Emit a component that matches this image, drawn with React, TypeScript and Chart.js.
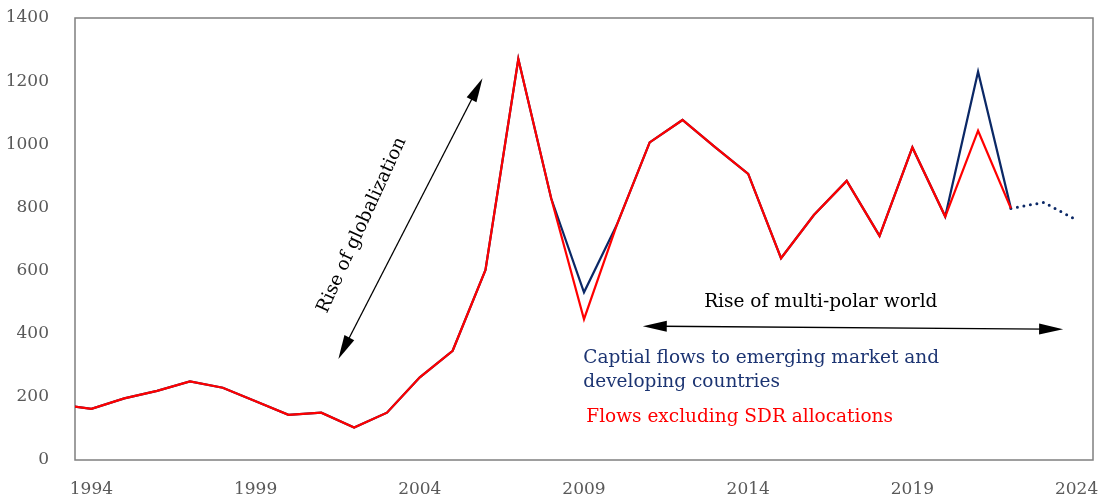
import { useEffect, useRef } from "react";
import { Chart, registerables } from "chart.js";

Chart.register(...registerables);

// Years on the x-axis (1993 sits just left of the plotted range)
const years = [
  1993, 1994, 1995, 1996, 1997, 1998, 1999, 2000, 2001, 2002, 2003, 2004, 2005,
  2006, 2007, 2008, 2009, 2010, 2011, 2012, 2013, 2014, 2015, 2016, 2017, 2018,
  2019, 2020, 2021, 2022, 2023, 2024,
];

// Capital flows to emerging market and developing countries (USD bn)
const capitalFlows: (number | null)[] = [
  176, 162, 195, 219, 249, 229, 186, 143, 150, 103, 150, 262, 346, 602, 1270,
  829, 531, 745, 1006, 1077, 990, 906, 639, 776, 884, 710, 990, 771, 1230, 797,
  null, null,
];

// Flows excluding SDR allocations
const flowsExSdr: (number | null)[] = [
  176, 162, 195, 219, 249, 229, 186, 143, 150, 103, 150, 262, 346, 602, 1270,
  829, 446, 745, 1006, 1077, 990, 906, 639, 776, 884, 710, 990, 771, 1043, 797,
  null, null,
];

// Projection for the latest years (dotted)
const projection: (number | null)[] = [
  null, null, null, null, null, null, null, null, null, null, null, null, null,
  null, null, null, null, null, null, null, null, null, null, null, null, null,
  null, null, null, 797, 816, 760,
];

const xTickYears = [1994, 1999, 2004, 2009, 2014, 2019, 2024];
const yTicks = [0, 200, 400, 600, 800, 1000, 1200, 1400];

const NAVY = "#0b2866";
const NAVY_TEXT = "#1c3472";
const RED = "#ff0000";
const GREY = "#595959";
const SERIF = '"DejaVu Serif", "Liberation Serif", serif';
const NOTE_FONT = `18.5px ${SERIF}`;

const toPoints = (vals: (number | null)[]) =>
  years.map((x, i) => ({ x, y: vals[i] }));

type Pt = [number, number];

function arrowHead(ctx: CanvasRenderingContext2D, from: Pt, tip: Pt, len: number, half: number) {
  const ang = Math.atan2(tip[1] - from[1], tip[0] - from[0]);
  const bx = tip[0] - len * Math.cos(ang);
  const by = tip[1] - len * Math.sin(ang);
  ctx.beginPath();
  ctx.moveTo(tip[0], tip[1]);
  ctx.lineTo(bx + half * Math.sin(ang), by - half * Math.cos(ang));
  ctx.lineTo(bx - half * Math.sin(ang), by + half * Math.cos(ang));
  ctx.closePath();
  ctx.fill();
}

function doubleArrow(ctx: CanvasRenderingContext2D, a: Pt, b: Pt) {
  ctx.save();
  ctx.strokeStyle = "#000";
  ctx.fillStyle = "#000";
  ctx.lineWidth = 1.3;
  const ang = Math.atan2(b[1] - a[1], b[0] - a[0]);
  const inset = 18;
  ctx.beginPath();
  ctx.moveTo(a[0] + inset * Math.cos(ang), a[1] + inset * Math.sin(ang));
  ctx.lineTo(b[0] - inset * Math.cos(ang), b[1] - inset * Math.sin(ang));
  ctx.stroke();
  arrowHead(ctx, a, b, 24, 5.5);
  arrowHead(ctx, b, a, 24, 5.5);
  ctx.restore();
}

// Frame around the plot area plus the annotation arrows and labels
const annotations = {
  id: "annotations",
  beforeDatasetsDraw(chart: Chart) {
    const { ctx, chartArea: a } = chart;
    ctx.save();
    ctx.strokeStyle = "#7f7f7f";
    ctx.lineWidth = 1.5;
    ctx.strokeRect(a.left, a.top, a.right - a.left, a.bottom - a.top);
    ctx.restore();
  },
  afterDatasetsDraw(chart: Chart) {
    const { ctx } = chart;
    const xs = chart.scales.x;
    const ys = chart.scales.y;
    const p = (yr: number, v: number): Pt => [xs.getPixelForValue(yr), ys.getPixelForValue(v)];

    // Rise of globalization
    doubleArrow(ctx, p(2001.52, 320), p(2005.91, 1209));
    ctx.save();
    const c = p(2002.24, 744);
    ctx.translate(c[0], c[1]);
    ctx.rotate((-65.5 * Math.PI) / 180);
    ctx.font = NOTE_FONT;
    ctx.fillStyle = "#000";
    ctx.textAlign = "center";
    ctx.textBaseline = "middle";
    ctx.fillText("Rise of globalization", 0, 0);
    ctx.restore();

    // Rise of multi-polar world
    doubleArrow(ctx, p(2010.79, 424), p(2023.59, 414));
    ctx.save();
    ctx.font = NOTE_FONT;
    ctx.fillStyle = "#000";
    ctx.textAlign = "center";
    ctx.textBaseline = "middle";
    const m = p(2016.21, 501);
    ctx.fillText("Rise of multi-polar world", m[0], m[1]);

    // Series labels
    ctx.textAlign = "left";
    ctx.fillStyle = NAVY_TEXT;
    const l1 = p(2008.98, 324);
    ctx.fillText("Captial flows to emerging market and", l1[0], l1[1]);
    const l2 = p(2008.98, 248);
    ctx.fillText("developing countries", l2[0], l2[1]);
    ctx.fillStyle = RED;
    const l3 = p(2009.07, 137);
    ctx.fillText("Flows excluding SDR allocations", l3[0], l3[1]);
    ctx.restore();
  },
};

export default function App() {
  const canvasRef = useRef<HTMLCanvasElement | null>(null);

  useEffect(() => {
    if (!canvasRef.current) return;
    const chart = new Chart(canvasRef.current, {
      type: "line",
      data: {
        datasets: [
          {
            label: "Flows excluding SDR allocations",
            data: toPoints(flowsExSdr),
            borderColor: RED,
            borderWidth: 2.2,
            borderJoinStyle: "miter",
            pointRadius: 0,
            tension: 0,
            clip: 0,
          },
          {
            label: "Captial flows to emerging market and developing countries",
            data: toPoints(capitalFlows),
            borderColor: NAVY,
            borderWidth: 2.2,
            borderJoinStyle: "miter",
            pointRadius: 0,
            tension: 0,
            clip: 0,
          },
          {
            label: "Projection",
            data: toPoints(projection),
            borderColor: NAVY,
            borderWidth: 3,
            borderDash: [0, 6.6],
            borderCapStyle: "round",
            pointRadius: 0,
            tension: 0,
            clip: 0,
          },
        ],
      },
      options: {
        animation: false,
        responsive: true,
        maintainAspectRatio: false,
        parsing: { xAxisKey: "x", yAxisKey: "y" },
        layout: { padding: { top: 18, right: 9, left: 0, bottom: 0 } },
        plugins: {
          legend: { display: false },
          tooltip: { enabled: false },
        },
        scales: {
          x: {
            type: "linear",
            min: 1993.5,
            max: 2024.5,
            grid: { display: false },
            border: { display: false },
            afterBuildTicks: (scale: any) => {
              scale.ticks = xTickYears.map((v) => ({ value: v }));
            },
            afterFit: (scale: any) => {
              scale.height = 38;
              scale.paddingLeft = 0;
              scale.paddingRight = 0;
            },
            ticks: {
              color: GREY,
              font: { family: SERIF, size: 17 },
              padding: 11,
              maxRotation: 0,
              autoSkip: false,
              callback: (v: any) => String(v),
            },
          },
          y: {
            type: "linear",
            min: 0,
            max: 1400,
            grid: { display: false },
            border: { display: false },
            afterBuildTicks: (scale: any) => {
              scale.ticks = yTicks.map((v) => ({ value: v }));
            },
            afterFit: (scale: any) => {
              scale.width = 75;
              scale.paddingTop = 0;
              scale.paddingBottom = 0;
            },
            ticks: {
              color: GREY,
              font: { family: SERIF, size: 17 },
              padding: 18,
              callback: (v: any) => String(v),
            },
          },
        },
      },
      plugins: [annotations],
    });
    return () => chart.destroy();
  }, []);

  return (
    <div style={{ position: "fixed", left: 0, top: 0, width: 1102, height: 498, background: "#fff" }}>
      <canvas ref={canvasRef} />
    </div>
  );
}
